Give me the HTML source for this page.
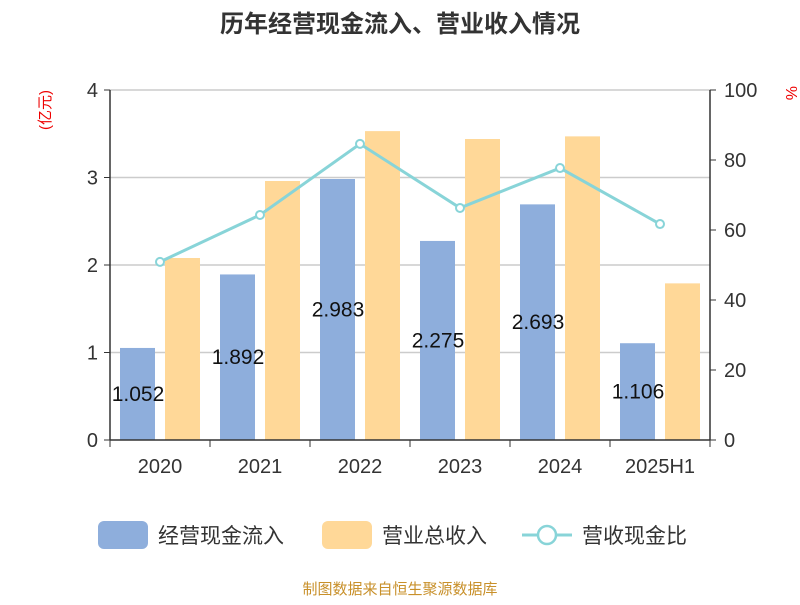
<!DOCTYPE html>
<html><head><meta charset="utf-8"><style>
body{margin:0;background:#fff;font-family:"Liberation Sans","Noto Sans CJK SC",sans-serif;}
</style></head><body>
<svg width="800" height="600" id="c" xmlns="http://www.w3.org/2000/svg" font-family="Liberation Sans, Noto Sans CJK SC, sans-serif">
<text x="400" y="32" text-anchor="middle" font-size="24" font-weight="bold" fill="#333">历年经营现金流入、营业收入情况</text>
<text x="55" y="115" text-anchor="middle" font-size="15" fill="#e00" transform="rotate(-90 50 115)">(亿元)</text>
<text x="780" y="92" font-size="16" fill="#e00" transform="rotate(90 786 92)">%</text>
<g id="g"></g>
<g>
<rect x="98" y="521" width="50" height="28" rx="6" fill="#8eaedc"/>
<text x="158" y="543" font-size="21" fill="#333">经营现金流入</text>
<rect x="322" y="521" width="50" height="28" rx="6" fill="#ffd898"/>
<text x="382" y="543" font-size="21" fill="#333">营业总收入</text>
<line x1="522" y1="535" x2="572" y2="535" stroke="#88d4d8" stroke-width="3"/>
<circle cx="547" cy="535" r="9" fill="#fff" stroke="#88d4d8" stroke-width="2.5"/>
<text x="582" y="543" font-size="21" fill="#333">营收现金比</text>
</g>
<text x="400" y="594" text-anchor="middle" font-size="15" fill="#c8902a">制图数据来自恒生聚源数据库</text>
</svg>
<script>
const categories=["2020","2021","2022","2023","2024","2025H1"];
const cashInflow=[1.052,1.892,2.983,2.275,2.693,1.106];
const revenue=[2.08,2.96,3.53,3.44,3.47,1.79];
const ratio=[50.9,64.3,84.6,66.3,77.7,61.7];
const leftTicks=[0,1,2,3,4];
const rightTicks=[0,20,40,60,80,100];
const NS="http://www.w3.org/2000/svg";
const g=document.getElementById('g');
const X0=110,X1=710,Y0=440,Y1=90;
const yL=v=>Y0-(v/4)*(Y0-Y1);
const yR=v=>Y0-(v/100)*(Y0-Y1);
const bw=(X1-X0)/categories.length;
const xc=i=>X0+bw*(i+0.5);
function mk(t,a){const e=document.createElementNS(NS,t);for(const k in a)e.setAttribute(k,a[k]);g.appendChild(e);return e;}
leftTicks.forEach(v=>{
 if(v>0){const l=mk('line',{x1:X0,x2:X1,y1:yL(v),y2:yL(v),stroke:'#ccc','stroke-width':1.5});
 
 }
 const tk=mk('line',{x1:X0-6,x2:X0,y1:yL(v),y2:yL(v),stroke:'#333'});
 
 
 const t=mk('text',{x:X0-12,y:yL(v)+7,'text-anchor':'end','font-size':20,fill:'#333'});t.textContent=v;
 
 
});
rightTicks.forEach(v=>{
 const tk=mk('line',{x1:X1,x2:X1+6,y1:yR(v),y2:yR(v),stroke:'#333'});
 
 
 const t=mk('text',{x:X1+14,y:yR(v)+7,'font-size':20,fill:'#333'});t.textContent=v;
 
 
});
categories.forEach((c,i)=>{
 const b=mk('rect',{x:xc(i)-40,y:yL(cashInflow[i]),width:35,height:Y0-yL(cashInflow[i]),fill:'#8eaedc'});
 
 
 const r=mk('rect',{x:xc(i)+5,y:yL(revenue[i]),width:35,height:Y0-yL(revenue[i]),fill:'#ffd898'});
 
 
 const t=mk('text',{x:xc(i)-22,y:(yL(cashInflow[i])+Y0)/2+7,'text-anchor':'middle','font-size':21,fill:'#111'});t.textContent=cashInflow[i].toFixed(3);
 
 
 const tk=mk('line',{x1:X0+bw*i,x2:X0+bw*i,y1:Y0,y2:Y0+7,stroke:'#333'});
 
 
 const xl=mk('text',{x:xc(i),y:Y0+33,'text-anchor':'middle','font-size':20,fill:'#333'});xl.textContent=c;
 
 
});
const tkE=mk('line',{x1:X1,x2:X1,y1:Y0,y2:Y0+7,stroke:'#333'});


const ax=mk('line',{x1:X0,x2:X0,y1:Y1,y2:Y0,stroke:'#333','stroke-width':1.5});


const ax2=mk('line',{x1:X1,x2:X1,y1:Y1,y2:Y0,stroke:'#333','stroke-width':1.5});


const ax3=mk('line',{x1:X0,x2:X1,y1:Y0,y2:Y0,stroke:'#333','stroke-width':1.5});


const pl=mk('polyline',{points:ratio.map((v,i)=>xc(i)+','+yR(v)).join(' '),fill:'none',stroke:'#88d4d8','stroke-width':3});


ratio.forEach((v,i)=>{
 const p=mk('circle',{cx:xc(i),cy:yR(v),r:4,fill:'#fff',stroke:'#88d4d8','stroke-width':2});
 
 
});
</script>
</body></html>
